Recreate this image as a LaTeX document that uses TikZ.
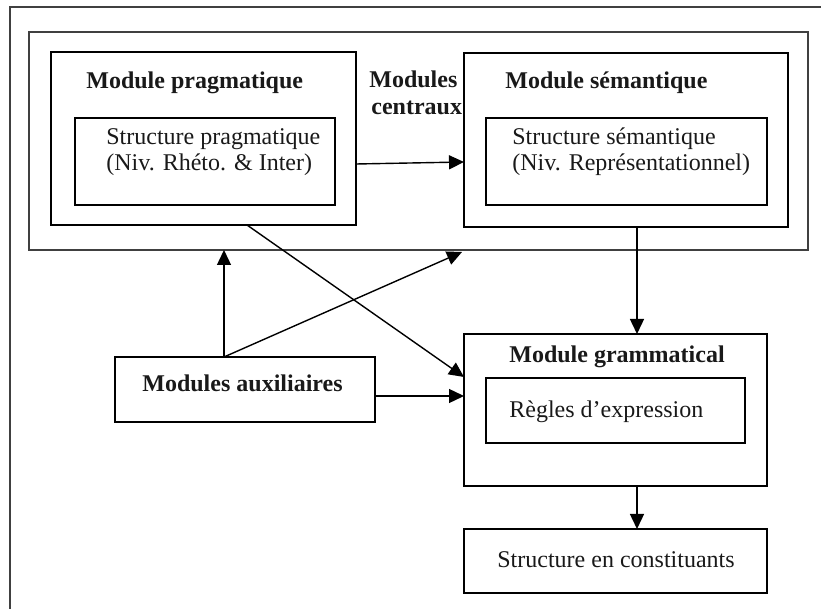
\documentclass[tikz,border=0pt]{standalone}
\usepackage{fontspec}
\setmainfont{Liberation Serif}
\usetikzlibrary{arrows.meta,fit}
\begin{document}
\begin{tikzpicture}[x=0.5pt,y=-0.5pt,
  box/.style={draw=black,line width=0.75pt,inner sep=0pt},
  frame/.style={draw=black!75,line width=0.8pt,inner sep=0pt},
  lbl/.style={anchor=base west,inner sep=0pt,font=\fontsize{12}{14}\selectfont,text=black!90},
  blbl/.style={lbl,font=\fontsize{12}{14}\selectfont\bfseries},
  arr/.style={line width=0.7pt,-{Triangle[length=7.5pt,width=7pt]}}]
\useasboundingbox (0,0) rectangle (821,609);
\clip (0,0) rectangle (821,609);
% outer frame (cut by page edge)
\coordinate (o1) at (10,612);
\coordinate (o2) at (10,7);
\coordinate (o3) at (824,7);
\draw[draw=black!75,line width=0.8pt] (o1) -- (o2) -- (o3);
% central frame
\node[frame,fit={(29,32) (808,250)}] (cent) {};
% pragmatic module
\node[box,fit={(51,52) (356,225)}] (prag) {};
\node[box,fit={(75,118) (335,205)}] (pragin) {};
\node[blbl] (pragt) at (86,89) {Module pragmatique};
\node[lbl] (pragl1) at (106,145) {Structure pragmatique};
\node[lbl] (pragl2) at (106,171) {(Niv. Rhéto. \& Inter)};
% central label
\node[blbl] (c1) at (369,88) {Modules};
\node[blbl] (c2) at (371,115) {centraux};
% semantic module
\node[box,fit={(464,53) (788,227)}] (sem) {};
\node[box,fit={(486,118) (767,205)}] (semin) {};
\node[blbl] (semt) at (505,89) {Module sémantique};
\node[lbl] (seml1) at (512,145) {Structure sémantique};
\node[lbl] (seml2) at (512,171) {(Niv. Représentationnel)};
% grammatical module
\node[box,fit={(464,334) (767,486)}] (gram) {};
\node[box,fit={(486,378) (745,443)}] (gramin) {};
\node[blbl] (gramt) at (509,363) {Module grammatical};
\node[lbl] (graml) at (509,418) {Règles d’expression};
% structure en constituants
\node[box,fit={(464,529) (767,593)}] (struct) {};
\node[lbl] (structl) at (497,568) {Structure en constituants};
% auxiliary modules
\node[box,fit={(115,357) (375,422)}] (aux) {};
\node[blbl] (auxl) at (142,392) {Modules auxiliaires};
% connector end points
\coordinate (p1) at (356,164);
\coordinate (s1) at (464,162);
\coordinate (sb) at (637,227);
\coordinate (gt) at (637,334);
\coordinate (gb) at (637,486);
\coordinate (st) at (637,529);
\coordinate (ax) at (224,357);
\coordinate (cb) at (224,250);
\coordinate (cb2) at (462,252);
\coordinate (ae) at (375,396);
\coordinate (gl) at (464,396);
\coordinate (pb) at (247,225);
\coordinate (gl2) at (464,377);
% connectors
\draw[arr] (p1) -- (s1);
\draw[arr] (sb) -- (gt);
\draw[arr] (gb) -- (st);
\draw[arr] (ax) -- (cb);
\draw[arr] (ax) -- (cb2);
\draw[arr] (ae) -- (gl);
\draw[arr] (pb) -- (gl2);
\end{tikzpicture}
\end{document}
